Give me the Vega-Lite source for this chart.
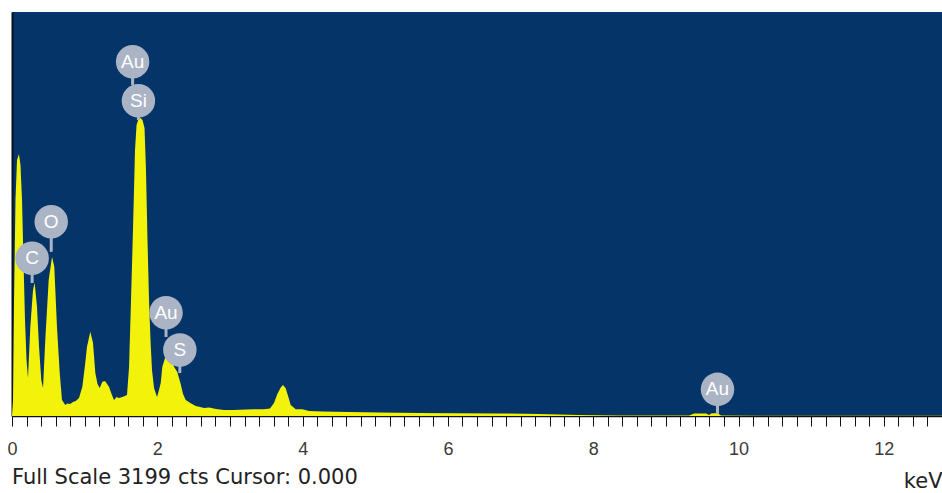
{
  "$schema": "https://vega.github.io/schema/vega-lite/v6.json",
  "width": 930,
  "height": 404,
  "autosize": {"type": "none"},
  "padding": {"left": 12, "top": 12, "right": 0, "bottom": 77},
  "background": "#ffffff",
  "config": {
    "view": {"fill": "#043468", "stroke": null},
    "axis": {"grid": false}
  },
  "title": {
    "text": "Full Scale 3199 cts Cursor: 0.000",
    "orient": "bottom",
    "anchor": "start",
    "frame": "group",
    "font": "DejaVu Sans",
    "fontSize": 21,
    "fontWeight": "normal",
    "color": "#222222",
    "dy": -28
  },
  "datasets": {
    "spectrum": [
      {"keV": 0, "counts": 0},
      {"keV": 0.014, "counts": 127},
      {"keV": 0.028, "counts": 918},
      {"keV": 0.048, "counts": 1710},
      {"keV": 0.069, "counts": 2027},
      {"keV": 0.096, "counts": 2075},
      {"keV": 0.117, "counts": 1987},
      {"keV": 0.138, "counts": 1710},
      {"keV": 0.158, "counts": 1235},
      {"keV": 0.179, "counts": 760},
      {"keV": 0.2, "counts": 443},
      {"keV": 0.22, "counts": 301},
      {"keV": 0.252, "counts": 705},
      {"keV": 0.289, "counts": 998},
      {"keV": 0.312, "counts": 1055},
      {"keV": 0.344, "counts": 865},
      {"keV": 0.372, "counts": 549},
      {"keV": 0.403, "counts": 285},
      {"keV": 0.427, "counts": 222},
      {"keV": 0.458, "counts": 602},
      {"keV": 0.505, "counts": 1077},
      {"keV": 0.551, "counts": 1261},
      {"keV": 0.582, "counts": 1182},
      {"keV": 0.619, "counts": 707},
      {"keV": 0.657, "counts": 340},
      {"keV": 0.688, "counts": 127},
      {"keV": 0.734, "counts": 87},
      {"keV": 0.76, "counts": 98},
      {"keV": 0.798, "counts": 95},
      {"keV": 0.84, "counts": 110},
      {"keV": 0.877, "counts": 119},
      {"keV": 0.922, "counts": 143},
      {"keV": 0.968, "counts": 232},
      {"keV": 1.005, "counts": 404},
      {"keV": 1.032, "counts": 549},
      {"keV": 1.078, "counts": 667},
      {"keV": 1.115, "counts": 578},
      {"keV": 1.147, "counts": 340},
      {"keV": 1.177, "counts": 253},
      {"keV": 1.207, "counts": 222},
      {"keV": 1.243, "counts": 272},
      {"keV": 1.28, "counts": 277},
      {"keV": 1.335, "counts": 232},
      {"keV": 1.376, "counts": 166},
      {"keV": 1.404, "counts": 127},
      {"keV": 1.44, "counts": 150},
      {"keV": 1.473, "counts": 143},
      {"keV": 1.528, "counts": 153},
      {"keV": 1.565, "counts": 162},
      {"keV": 1.583, "counts": 166},
      {"keV": 1.611, "counts": 388},
      {"keV": 1.638, "counts": 918},
      {"keV": 1.665, "counts": 1473},
      {"keV": 1.693, "counts": 2106},
      {"keV": 1.714, "counts": 2304},
      {"keV": 1.741, "counts": 2352},
      {"keV": 1.769, "counts": 2360},
      {"keV": 1.796, "counts": 2344},
      {"keV": 1.824, "counts": 2280},
      {"keV": 1.844, "counts": 1948},
      {"keV": 1.865, "counts": 1394},
      {"keV": 1.886, "counts": 918},
      {"keV": 1.906, "counts": 602},
      {"keV": 1.927, "counts": 364},
      {"keV": 1.955, "counts": 222},
      {"keV": 1.996, "counts": 150},
      {"keV": 2.023, "counts": 206},
      {"keV": 2.047, "counts": 261},
      {"keV": 2.069, "counts": 390},
      {"keV": 2.106, "counts": 459},
      {"keV": 2.138, "counts": 467},
      {"keV": 2.184, "counts": 443},
      {"keV": 2.23, "counts": 390},
      {"keV": 2.275, "counts": 348},
      {"keV": 2.322, "counts": 253},
      {"keV": 2.354, "counts": 174},
      {"keV": 2.391, "counts": 127},
      {"keV": 2.46, "counts": 101},
      {"keV": 2.529, "counts": 79},
      {"keV": 2.574, "counts": 74},
      {"keV": 2.643, "counts": 63},
      {"keV": 2.712, "counts": 67},
      {"keV": 2.808, "counts": 55},
      {"keV": 2.918, "counts": 48},
      {"keV": 3.056, "counts": 48},
      {"keV": 3.221, "counts": 51},
      {"keV": 3.331, "counts": 53},
      {"keV": 3.469, "counts": 53},
      {"keV": 3.551, "counts": 59},
      {"keV": 3.606, "counts": 103},
      {"keV": 3.652, "counts": 174},
      {"keV": 3.699, "counts": 226},
      {"keV": 3.73, "counts": 245},
      {"keV": 3.767, "counts": 219},
      {"keV": 3.803, "counts": 153},
      {"keV": 3.836, "counts": 87},
      {"keV": 3.905, "counts": 53},
      {"keV": 3.996, "counts": 53},
      {"keV": 4.088, "counts": 40},
      {"keV": 4.267, "counts": 36},
      {"keV": 4.446, "counts": 34},
      {"keV": 4.639, "counts": 32},
      {"keV": 5.052, "counts": 28},
      {"keV": 5.602, "counts": 24},
      {"keV": 6.153, "counts": 21},
      {"keV": 6.703, "counts": 20},
      {"keV": 7.254, "counts": 16},
      {"keV": 7.805, "counts": 8},
      {"keV": 8.355, "counts": 4},
      {"keV": 8.906, "counts": 4},
      {"keV": 9.319, "counts": 4},
      {"keV": 9.388, "counts": 20},
      {"keV": 9.553, "counts": 20},
      {"keV": 9.594, "counts": 8},
      {"keV": 9.622, "counts": 20},
      {"keV": 9.704, "counts": 24},
      {"keV": 9.759, "counts": 4},
      {"keV": 10.28, "counts": 2},
      {"keV": 11.11, "counts": 2},
      {"keV": 11.93, "counts": 1},
      {"keV": 12.8, "counts": 1}
    ],
    "peaks": [
      {"element": "Au", "keV": 1.66, "counts": 2805, "stem": 2621},
      {"element": "Si", "keV": 1.74, "counts": 2496, "stem": 2344},
      {"element": "O", "keV": 0.54, "counts": 1538, "stem": 1300},
      {"element": "C", "keV": 0.277, "counts": 1249, "stem": 1053},
      {"element": "Au", "keV": 2.12, "counts": 818, "stem": 626},
      {"element": "S", "keV": 2.31, "counts": 523, "stem": 340},
      {"element": "Au", "keV": 9.71, "counts": 211, "stem": 16}
    ]
  },
  "encoding": {
    "x": {
      "field": "keV",
      "type": "quantitative",
      "scale": {"domain": [0, 12.8], "nice": false, "zero": false},
      "axis": {
        "title": "keV",
        "titleFont": "DejaVu Sans",
        "titleFontSize": 21,
        "titleFontWeight": "normal",
        "titleColor": "#222222",
        "titleAnchor": "end",
        "titleBaseline": "alphabetic",
        "titleY": 71,
        "values": [0, 0.2, 0.4, 0.6, 0.8, 1, 1.2, 1.4, 1.6, 1.8, 2, 2.2, 2.4, 2.6, 2.8, 3, 3.2, 3.4, 3.6, 3.8, 4, 4.2, 4.4, 4.6, 4.8, 5, 5.2, 5.4, 5.6, 5.8, 6, 6.2, 6.4, 6.6, 6.8, 7, 7.2, 7.4, 7.6, 7.8, 8, 8.2, 8.4, 8.6, 8.8, 9, 9.2, 9.4, 9.6, 9.8, 10, 10.2, 10.4, 10.6, 10.8, 11, 11.2, 11.4, 11.6, 11.8, 12, 12.2, 12.4, 12.6, 12.8],
        "labelExpr": "abs(datum.value / 2 - round(datum.value / 2)) < 0.001 ? '' + round(datum.value) : ''",
        "labelFont": "Liberation Sans",
        "labelFontSize": 18,
        "labelColor": "#3a3a3a",
        "labelPadding": 14,
        "labelOverlap": false,
        "labelFlush": false,
        "tickSize": 10,
        "tickColor": "#111111",
        "tickWidth": 1,
        "domainColor": "#111111",
        "domainWidth": 1.5,
        "encode": {
          "ticks": {
            "update": {
              "y2": {"signal": "abs(datum.value - round(datum.value)) < 0.001 ? (abs(datum.value / 2 - round(datum.value / 2)) < 0.001 ? 10 : 8) : 6"}
            }
          }
        }
      }
    },
    "y": {
      "field": "counts",
      "type": "quantitative",
      "scale": {"domain": [0, 3199], "nice": false},
      "axis": {
        "title": null,
        "labels": false,
        "ticks": false,
        "domainColor": "#0a0f1a",
        "domainWidth": 2
      }
    }
  },
  "layer": [
    {
      "data": {"name": "spectrum"},
      "mark": {"type": "area", "color": "#f2f20a", "interpolate": "linear"}
    },
    {
      "data": {"name": "peaks"},
      "mark": {"type": "rule", "color": "#aab4c5", "strokeWidth": 3},
      "encoding": {"y2": {"field": "stem"}}
    },
    {
      "data": {"name": "peaks"},
      "mark": {"type": "point", "shape": "circle", "filled": true, "size": 1120, "color": "#aab4c5", "opacity": 1}
    },
    {
      "data": {"name": "peaks"},
      "mark": {"type": "text", "color": "#ffffff", "font": "Liberation Sans", "fontSize": 19, "baseline": "middle", "align": "center"},
      "encoding": {"text": {"field": "element"}}
    }
  ]
}
